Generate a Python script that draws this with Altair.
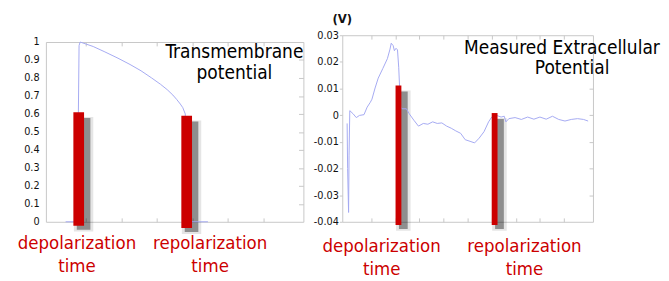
import altair as alt
import pandas as pd

# ---------------- data ----------------
# Left panel: transmembrane potential (normalized), x in arbitrary time units 0..7
tm_t = [0.42, 0.77, 0.78, 0.80, 0.83, 1.2, 1.53, 1.9, 2.24, 2.55, 2.85, 3.1, 3.29,
        3.45, 3.56, 3.66, 3.73, 3.80, 3.82, 4.44]
tm_v = [0, 0, 0.6, 0.98, 1.0, 0.975, 0.945, 0.91, 0.875, 0.84, 0.80, 0.765, 0.735,
        0.705, 0.68, 0.655, 0.635, 0.60, 0.0, 0.0]

# Right panel: measured extracellular potential (V), x in 0..10
ex_t = [0.00, 0.02, 0.06, 0.08, 0.11, 0.25, 0.38, 0.51, 0.70, 0.83, 0.96, 1.03, 1.16,
        1.29, 1.48, 1.67, 1.78, 1.83, 1.91, 1.96, 2.03, 2.09, 2.14, 2.18, 2.22, 2.28,
        2.46, 2.58, 2.77, 2.96, 3.16, 3.35, 3.55, 3.74, 3.93, 4.13, 4.32, 4.51, 4.71,
        4.90, 5.10, 5.29, 5.48, 5.68, 5.87, 6.00, 6.20, 6.39, 6.52, 6.59, 6.71, 6.97,
        7.23, 7.49, 7.75, 8.00, 8.26, 8.52, 8.78, 9.04, 9.30, 9.56, 9.81, 10.0]
ex_v = [-0.0031, -0.020, -0.0365, -0.015, 0.0017, 0.0005, -0.0009, -0.0001, 0.0002,
        0.003, 0.0048, 0.006, 0.0102, 0.0139, 0.0175, 0.0212, 0.0248, 0.027, 0.0261,
        0.0242, 0.0251, 0.0245, 0.018, 0.010, 0.003, 0.0024, 0.0024, 0.0005, -0.0019,
        -0.0041, -0.0031, -0.0034, -0.0025, -0.0031, -0.0029, -0.0041, -0.0049,
        -0.0059, -0.0068, -0.0092, -0.0098, -0.0104, -0.0086, -0.0062, -0.0025,
        -0.0007, -0.0001, -0.0007, -0.0004, -0.0025, -0.0013, -0.0009, -0.0016,
        -0.0007, -0.0015, -0.0007, -0.0015, -0.0004, -0.0016, -0.0022, -0.0016,
        -0.0013, -0.0016, -0.0022]

event_names = ["depolarization", "repolarization"]
event_suffix = "time"
tm_event_t = [0.79, 3.84]
tm_event_top = [0.61, 0.59]
tm_event_base = [-0.022, -0.035]
ex_event_t = [2.13, 6.12]
ex_event_top = [0.0111, 0.0008]
ex_event_base = [-0.0412, -0.0412]

tm_y_ticks = [0, 0.1, 0.2, 0.3, 0.4, 0.5, 0.6, 0.7, 0.8, 0.9, 1]
ex_y_ticks = [-0.04, -0.03, -0.02, -0.01, 0, 0.01, 0.02, 0.03]
tm_x_ticks = [1, 2, 3, 4, 5, 6]
ex_x_ticks = [1, 2, 3, 4, 5, 6, 7, 8, 9]

left_title = ["Transmembrane", "potential"]
right_title = ["Measured Extracellular", "Potential"]
unit_label = "(V)"

# ---------------- styling ----------------
FRAME = "#c6c6c6"
RED = "#cc0000"
BLUE = "#a3a8f2"
LABEL_FONT = "DejaVu Sans"
NOTE_FONT = "DejaVu Sans Condensed"
LW, LH = 265, 185
RW, RH = 258, 192

one = pd.DataFrame({"k": [0]})
df_tm = pd.DataFrame({"t": tm_t, "v": tm_v})
df_ex = pd.DataFrame({"t": ex_t, "v": ex_v})
df_tm_ev = pd.DataFrame({"t": tm_event_t, "top": tm_event_top,
                         "base": tm_event_base, "name": event_names})
df_ex_ev = pd.DataFrame({"t": ex_event_t, "top": ex_event_top,
                         "base": ex_event_base, "name": event_names})


def inner_axis(orient, values, size=4):
    return alt.Axis(orient=orient, offset=-size, tickSize=size, labels=False,
                    domain=False, grid=False, values=values, tickColor=FRAME,
                    title=None)


def note(text, x, y, size, color, font=NOTE_FONT, weight="normal", lh=24):
    return alt.Chart(one).mark_text(
        text=text, align="center", baseline="alphabetic", fontSize=size,
        color=color, font=font, fontWeight=weight, lineHeight=lh
    ).encode(x=alt.value(x), y=alt.value(y))


def panel(df_line, df_ev, xs, ys, bar_w, ax_left, ax_bottom, ax_top, ax_right):
    def bar_enc(c, xaxis=None, yaxis=None):
        return c.encode(x=alt.X("t:Q", scale=xs, axis=xaxis),
                        y=alt.Y("top:Q", scale=ys, axis=yaxis),
                        y2=alt.Y2("base:Q"))
    shadow_a = bar_enc(alt.Chart(df_ev).mark_bar(
        size=bar_w + 9, color="black", opacity=0.10, xOffset=5, yOffset=5,
        y2Offset=6, orient="vertical"))
    shadow_b = bar_enc(alt.Chart(df_ev).mark_bar(
        size=bar_w + 3, color="black", opacity=0.38, xOffset=5, yOffset=6,
        y2Offset=4, orient="vertical"))
    line = alt.Chart(df_line).mark_line(color=BLUE, strokeWidth=1).encode(
        x=alt.X("t:Q", scale=xs, axis=ax_bottom),
        y=alt.Y("v:Q", scale=ys, axis=ax_left))
    bars = bar_enc(alt.Chart(df_ev).mark_bar(size=bar_w, color=RED, orient="vertical"),
                   ax_top, ax_right)
    return [shadow_a, shadow_b, line, bars]


# ---------------- left panel ----------------
xl = alt.Scale(domain=[0, 7], nice=False, zero=False)
yl = alt.Scale(domain=[0, 1], nice=False, zero=False)
left_axis_l = alt.Axis(values=tm_y_ticks, format="~g", ticks=False, tickSize=0,
                       labelPadding=7, domain=False, grid=False, title=None,
                       labelFont=LABEL_FONT, labelFontSize=10, labelColor="#111")
left_layers = panel(df_tm, df_tm_ev, xl, yl, 11, left_axis_l,
                    inner_axis("bottom", tm_x_ticks), inner_axis("top", tm_x_ticks),
                    inner_axis("right", tm_y_ticks[1:-1], 5))
left_layers += [
    note(left_title[0], 194, 16, 19.5, "black"),
    note(left_title[1], 194, 38, 19.5, "black"),
    note([event_names[0], event_suffix], 32, 213, 19, RED),
    note([event_names[1], event_suffix], 169, 213, 19, RED),
]
left_panel = alt.layer(*left_layers).resolve_axis(
    x="independent", y="independent").properties(width=LW, height=LH)
spacer = alt.Chart(one).mark_point(size=0, opacity=0).properties(
    width=LW, height=6.5, view=alt.ViewConfig(strokeOpacity=0))
left_col = alt.vconcat(spacer, left_panel, spacing=0, bounds="flush")

# ---------------- right panel ----------------
xr = alt.Scale(domain=[0, 10], nice=False, zero=False)
yr = alt.Scale(domain=[-0.04, 0.03], nice=False, zero=False)
left_axis_r = alt.Axis(
    values=ex_y_ticks,
    labelExpr="datum.value == 0 ? '0' : (datum.value < 0 ? '-' : '') + format(abs(datum.value), '.2f')",
    tickSize=3, tickColor=FRAME, labelPadding=1, domain=False, grid=False, title=None,
    labelFont=LABEL_FONT, labelFontSize=10, labelColor="#111")
right_layers = panel(df_ex, df_ex_ev, xr, yr, 6, left_axis_r,
                     inner_axis("bottom", ex_x_ticks), inner_axis("top", ex_x_ticks),
                     inner_axis("right", ex_y_ticks[1:-1], 4))
right_layers += [
    note(unit_label, 0, -13, 12, "#111", font=LABEL_FONT, weight="bold"),
    note(right_title[0], 226, 19, 19.5, "black"),
    note(right_title[1], 236.5, 39.5, 19.5, "black"),
    note([event_names[0], event_suffix], 40.5, 223, 19, RED),
    note([event_names[1], event_suffix], 187.5, 223, 19, RED),
]
right_panel = alt.layer(*right_layers).resolve_axis(
    x="independent", y="independent").properties(width=RW, height=RH)

chart = alt.hconcat(left_col, right_panel, spacing=8).properties(
    padding={"left": 9, "top": 0, "right": 0, "bottom": 0},
    background="white",
).configure_view(stroke=FRAME, strokeWidth=1)

chart.save("out.html", embed_options={"renderer": "svg", "actions": False})
